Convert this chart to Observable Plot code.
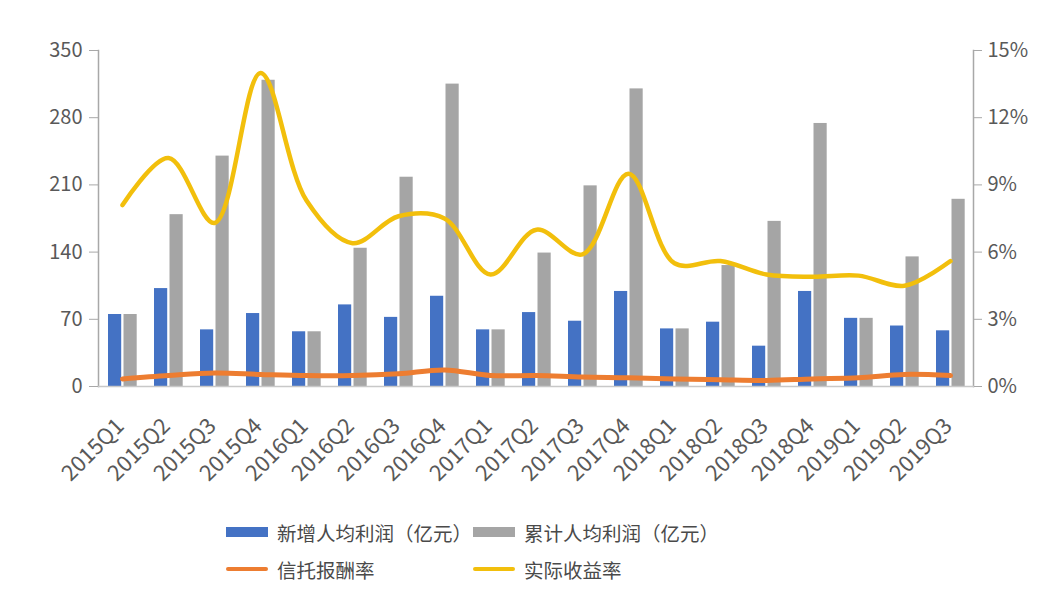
<!DOCTYPE html>
<html><head><meta charset="utf-8">
<script src="https://cdn.jsdelivr.net/npm/d3@7"></script>
<script src="https://cdn.jsdelivr.net/npm/@observablehq/plot@0.6"></script>
<style>
body{margin:0;background:#fff;font-family:"Noto Sans CJK SC","Noto Sans",sans-serif;}
#chart{width:1062px;}
#chart svg{display:block;}
.legend{position:relative;width:1062px;height:100px;color:#4a4a4a;font-size:19.5px;}
.item{position:absolute;display:flex;align-items:center;height:30px;}
.sw{display:inline-block;width:42px;margin-right:9px;}
</style></head><body><div id="chart"></div>
<script>
const quarters = ["2015Q1","2015Q2","2015Q3","2015Q4","2016Q1","2016Q2","2016Q3","2016Q4","2017Q1","2017Q2","2017Q3","2017Q4","2018Q1","2018Q2","2018Q3","2018Q4","2019Q1","2019Q2","2019Q3"];
const newProfit = [75,102,59,76,57,85,72,94,59,77,68,99,60,67,42,99,71,63,58];
const cumProfit = [75,179,240,319,57,144,218,315,59,139,209,310,60,126,172,274,71,135,195];
const feeRate   = [0.34,0.49,0.60,0.54,0.49,0.49,0.57,0.74,0.49,0.49,0.42,0.39,0.34,0.30,0.27,0.34,0.39,0.54,0.49];
const yieldRate = [8.1,10.2,7.3,14.0,8.3,6.4,7.6,7.5,5.0,7.0,5.9,9.5,5.5,5.6,5.0,4.9,4.95,4.5,5.6];
const leftTicks = [0,70,140,210,280,350];
const rightTicks = [0,3,6,9,12,15];
const seriesNames = ["新增人均利润（亿元）","累计人均利润（亿元）","信托报酬率","实际收益率"];
const colors = ["#4472C4","#A5A5A5","#ED7D31","#F2BF0C"];

const leftMax = 350, rightMax = 15;
const toLeft = p => p * leftMax / rightMax;
const rows = quarters.map((q,i)=>({q, newP:newProfit[i], cum:cumProfit[i], fee:feeRate[i], yld:yieldRate[i]}));

const chart = Plot.plot({
  width:1062, height:505,
  marginLeft:98, marginRight:89, marginTop:50, marginBottom:119,
  style:{fontFamily:'"Noto Sans CJK SC","Noto Sans",sans-serif', color:"#595959", background:"#fff"},
  x:{type:"band", domain:quarters, padding:0, axis:null},
  y:{domain:[0,leftMax], axis:null},
  marks:[
    Plot.barY(rows,{x:"q", y:"newP", fill:colors[0], insetLeft:9, insetRight:23.8}),
    Plot.barY(rows,{x:"q", y:"cum", fill:colors[1], insetLeft:24.5, insetRight:8.3}),
    Plot.line(rows,{x:"q", y:d=>toLeft(d.fee), stroke:colors[2], strokeWidth:5, curve:"catmull-rom"}),
    Plot.line(rows,{x:"q", y:d=>toLeft(d.yld), stroke:colors[3], strokeWidth:4.5, curve:"catmull-rom"}),
    Plot.frame({anchor:"left", stroke:"#a8a8a8", strokeWidth:1.5}),
    Plot.frame({anchor:"right", stroke:"#a8a8a8", strokeWidth:1.5}),
    Plot.frame({anchor:"bottom", stroke:"#c8c8c8", strokeWidth:1.5}),
    Plot.axisY({anchor:"left", ticks:leftTicks, tickSize:9, tickPadding:7, fontSize:20, stroke:"#a8a8a8", label:null}),
    Plot.axisY({anchor:"right", ticks:rightTicks.map(toLeft), tickFormat:v=>Math.round(v*rightMax/leftMax)+"%", tickSize:8, tickPadding:6, fontSize:20, stroke:"#a8a8a8", label:null}),
    Plot.axisX({anchor:"bottom", tickSize:0, tickPadding:22, dy:14, dx:-2, tickRotate:-45, fontSize:22, label:null})
  ]
});
document.getElementById("chart").appendChild(chart);

const leg = document.createElement("div");
leg.className = "legend";
const pos = [[226,12],[473,12],[226,49],[473,49]];
seriesNames.forEach((n,i)=>{
  const it = document.createElement("div");
  it.className="item";
  it.style.left = pos[i][0]+"px";
  it.style.top = pos[i][1]+"px";
  const sw = document.createElement("span");
  sw.className="sw";
  sw.style.background = colors[i];
  sw.style.height = i<2 ? "10px" : "4px";
  if(i>=2) sw.style.borderRadius="2px";
  const t = document.createElement("span");
  t.textContent = n;
  it.appendChild(sw); it.appendChild(t);
  leg.appendChild(it);
});
document.getElementById("chart").appendChild(leg);
</script>
</body></html>
